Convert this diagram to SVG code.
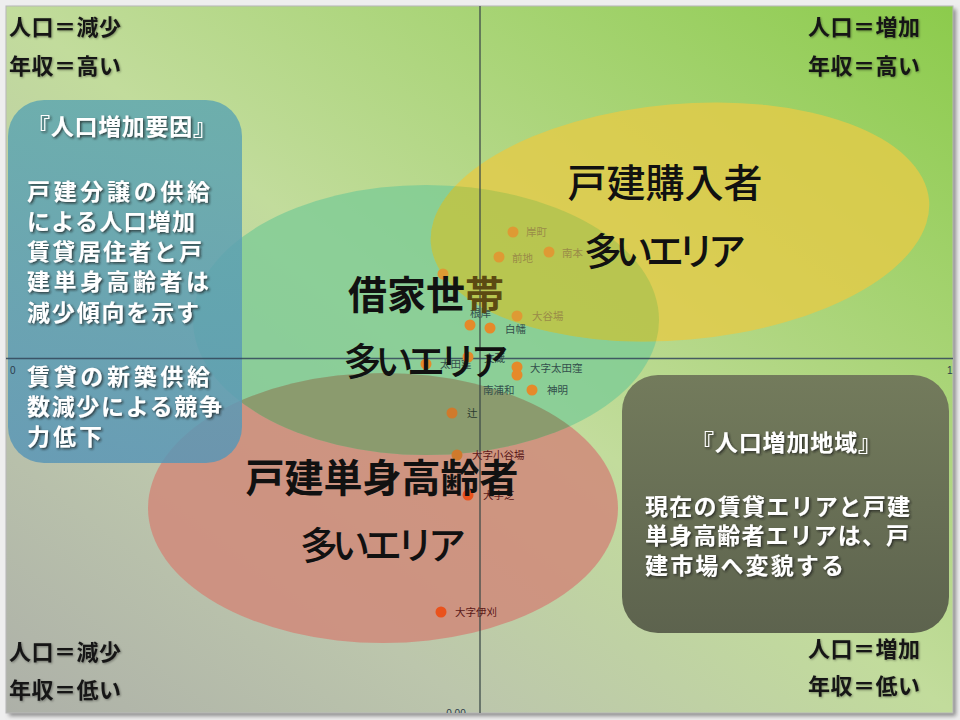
<svg xmlns="http://www.w3.org/2000/svg" width="960" height="720" viewBox="0 0 960 720">
<defs>
<linearGradient id="bg" x1="1" y1="0" x2="0" y2="1">
<stop offset="0" stop-color="#8ccb4c"/>
<stop offset="0.5" stop-color="#c2dc9c"/>
<stop offset="0.75" stop-color="#bcc6ac"/>
<stop offset="1" stop-color="#adb0a8"/>
</linearGradient>
<linearGradient id="tealG" x1="0" y1="0" x2="0" y2="1">
<stop offset="0" stop-color="#5fa7b0"/>
<stop offset="1" stop-color="#5a96b6"/>
</linearGradient>
<linearGradient id="oliveG" x1="0" y1="0" x2="0" y2="1">
<stop offset="0" stop-color="#737b5c"/>
<stop offset="1" stop-color="#5d634e"/>
</linearGradient>
<filter id="ts" x="-10%" y="-30%" width="130%" height="170%">
<feDropShadow dx="1.5" dy="1.5" stdDeviation="0.9" flood-color="#1a1a1a" flood-opacity="0.75"/>
</filter>
<filter id="ls" x="-10%" y="-30%" width="130%" height="170%">
<feDropShadow dx="1" dy="1" stdDeviation="0.8" flood-color="#000" flood-opacity="0.35"/>
</filter>
<filter id="frameShadow" x="-5%" y="-5%" width="110%" height="110%">
<feGaussianBlur stdDeviation="2"/>
</filter>
<clipPath id="slideClip"><rect x="6" y="6" width="947" height="707"/></clipPath>
<clipPath id="clipRed"><ellipse cx="383" cy="508" rx="235" ry="135"/></clipPath>
<clipPath id="clipYellow"><ellipse cx="680" cy="222" rx="250" ry="118" transform="rotate(-5 680 222)"/></clipPath>
<style>
text{font-family:"Noto Sans CJK JP","Noto Sans CJK SC",sans-serif}
.big{font-size:39px;fill:#111;text-anchor:middle}
.kana{font-size:38px;fill:#111;text-anchor:middle;font-weight:500}
.corner{font-size:22px;font-weight:bold;fill:#161616;letter-spacing:0.5px}
.box{font-size:23px;font-weight:bold;fill:#fff}
.pt{font-size:10.5px}
.py{fill:#de9a34}.ly{fill:#9a8c48}
.pg{fill:#e58a2a}.lg{fill:#33504c}
.po{fill:#cf7a2c}.lo{fill:#2a3a30}
.pr{fill:#ea521c}.lr{fill:#5a1818}
.tick{font-size:10px;fill:#2c3c4c;font-family:"Liberation Sans",sans-serif}
</style>
</defs>

<rect x="0" y="0" width="960" height="720" fill="#eeeeee"/>
<rect x="9" y="9" width="947" height="707" fill="#8a8a8a" filter="url(#frameShadow)"/>
<rect x="6" y="6" width="947" height="707" fill="url(#bg)" stroke="#b8b8b8" stroke-width="1"/>

<g id="region-single-elderly-shape">
<ellipse cx="383" cy="508" rx="235" ry="135" fill="#d08a7a" opacity="0.85"/>
</g>
<g id="region-renters-shape">
<ellipse cx="426" cy="320" rx="233" ry="135" fill="#7acb95" opacity="0.75"/>
<ellipse cx="426" cy="320" rx="233" ry="135" fill="#898358" opacity="0.6" clip-path="url(#clipRed)"/>
</g>
<g id="region-buyers-shape">
<ellipse cx="680" cy="222" rx="250" ry="118" transform="rotate(-5 680 222)" fill="#e5cb47" opacity="0.8"/>
<ellipse cx="426" cy="320" rx="233" ry="135" fill="#9dc049" opacity="0.5" clip-path="url(#clipYellow)"/>
</g>

<g id="box-factors-shape">
<rect x="8" y="100" width="234" height="363" rx="36" fill="url(#tealG)" opacity="0.85"/>
</g>

<g id="axes" clip-path="url(#slideClip)">
<line x1="480" y1="6" x2="480" y2="713" stroke="#3c4a48" stroke-width="1.5" opacity="0.85"/>
<line x1="6" y1="358.5" x2="953" y2="358.5" stroke="#33465a" stroke-width="1.5" opacity="0.85"/>
<text class="tick" x="10" y="374">0</text>
<text class="tick" x="947" y="374">1</text>
<text class="tick" x="456" y="717" text-anchor="middle">0.00</text>
</g>

<g id="points">
<circle class="py" cx="513" cy="232" r="5.5"/><text class="pt ly" x="526" y="236">岸町</text>
<circle class="py" cx="499" cy="257" r="5.5"/><text class="pt ly" x="512" y="262">前地</text>
<circle class="py" cx="549" cy="252" r="5.5"/><text class="pt ly" x="562" y="257">南本</text>
<circle class="py" cx="443" cy="274" r="5.5"/>
<circle class="py" cx="517" cy="316" r="5.5"/><text class="pt ly" x="532" y="320">大谷場</text>
<text class="pt lg" x="470" y="317">根岸</text>
<circle class="pg" cx="470" cy="325" r="5.5"/>
<circle class="pg" cx="490" cy="328" r="5.5"/><text class="pt lg" x="505" y="333">白幡</text>
<circle class="pg" cx="426" cy="364" r="5.5"/><text class="pt lg" x="440" y="368">太田窪</text>
<circle class="pg" cx="468" cy="357" r="5.5"/><text class="pt lg" x="484" y="362">文蔵</text>
<circle class="pg" cx="517" cy="367" r="5.5"/><circle class="pg" cx="517" cy="375" r="5.5"/><text class="pt lg" x="530" y="372">大字太田窪</text>
<text class="pt lg" x="483" y="394">南浦和</text>
<circle class="pg" cx="532" cy="390" r="5.5"/><text class="pt lg" x="547" y="394">神明</text>
<circle class="po" cx="452" cy="413" r="5.5"/><text class="pt lo" x="467" y="417">辻</text>
<circle class="po" cx="457" cy="455" r="5.5"/><text class="pt lr" x="472" y="459">大字小谷場</text>
<circle class="pr" cx="468" cy="495" r="5.5"/><text class="pt lr" x="483" y="499">大字芝</text>
<circle class="pr" cx="441" cy="612" r="5.5"/><text class="pt lr" x="455" y="616">大字伊刈</text>
</g>

<g id="region-single-elderly">
<text class="big" x="382" y="492" font-weight="bold">戸建単身高齢者</text>
<text class="kana" x="383" y="559" textLength="166" lengthAdjust="spacing">多いエリア</text>
</g>
<g id="region-buyers">
<text class="big" x="665" y="197" font-weight="500">戸建購入者</text>
<text class="kana" x="665" y="265" textLength="162" lengthAdjust="spacing">多いエリア</text>
</g>
<g id="region-renters">
<text class="big" x="426" y="309" font-weight="bold">借家世<tspan fill="#5c4a12">帯</tspan></text>
<text class="kana" x="426" y="375" textLength="165" lengthAdjust="spacing">多いエリア</text>
</g>

<g id="box-factors">
<g filter="url(#ts)">
<text class="box" x="27" y="135" textLength="189" lengthAdjust="spacing">『人口増加要因』</text>
<text class="box" x="27" y="200" textLength="183" lengthAdjust="spacing">戸建分譲の供給</text>
<text class="box" x="27" y="230" textLength="168" lengthAdjust="spacing">による人口増加</text>
<text class="box" x="27" y="260" textLength="175" lengthAdjust="spacing">賃貸居住者と戸</text>
<text class="box" x="27" y="290" textLength="182" lengthAdjust="spacing">建単身高齢者は</text>
<text class="box" x="27" y="321" textLength="172" lengthAdjust="spacing">減少傾向を示す</text>
<text class="box" x="27" y="385" textLength="183" lengthAdjust="spacing">賃貸の新築供給</text>
<text class="box" x="27" y="415" textLength="195" lengthAdjust="spacing">数減少による競争</text>
<text class="box" x="27" y="445" textLength="75" lengthAdjust="spacing">力低下</text>
</g>
</g>

<g id="box-area">
<rect x="622" y="375" width="327" height="258" rx="36" fill="url(#oliveG)"/>
<g filter="url(#ts)">
<text class="box" x="691" y="451" textLength="190" lengthAdjust="spacing">『人口増加地域』</text>
<text class="box" x="645" y="515" textLength="265" lengthAdjust="spacing">現在の賃貸エリアと戸建</text>
<text class="box" x="645" y="544" textLength="264" lengthAdjust="spacing">単身高齢者エリアは、戸</text>
<text class="box" x="645" y="574" textLength="199" lengthAdjust="spacing">建市場へ変貌する</text>
</g>
</g>

<g id="corner-top-left" filter="url(#ls)">
<text class="corner" x="9" y="35">人口＝減少</text>
<text class="corner" x="9" y="74">年収＝高い</text>
</g>
<g id="corner-top-right" filter="url(#ls)">
<text class="corner" x="808" y="35">人口＝増加</text>
<text class="corner" x="808" y="74">年収＝高い</text>
</g>
<g id="corner-bottom-left" filter="url(#ls)">
<text class="corner" x="9" y="660">人口＝減少</text>
<text class="corner" x="9" y="698">年収＝低い</text>
</g>
<g id="corner-bottom-right" filter="url(#ls)">
<text class="corner" x="808" y="657">人口＝増加</text>
<text class="corner" x="808" y="694">年収＝低い</text>
</g>
</svg>
